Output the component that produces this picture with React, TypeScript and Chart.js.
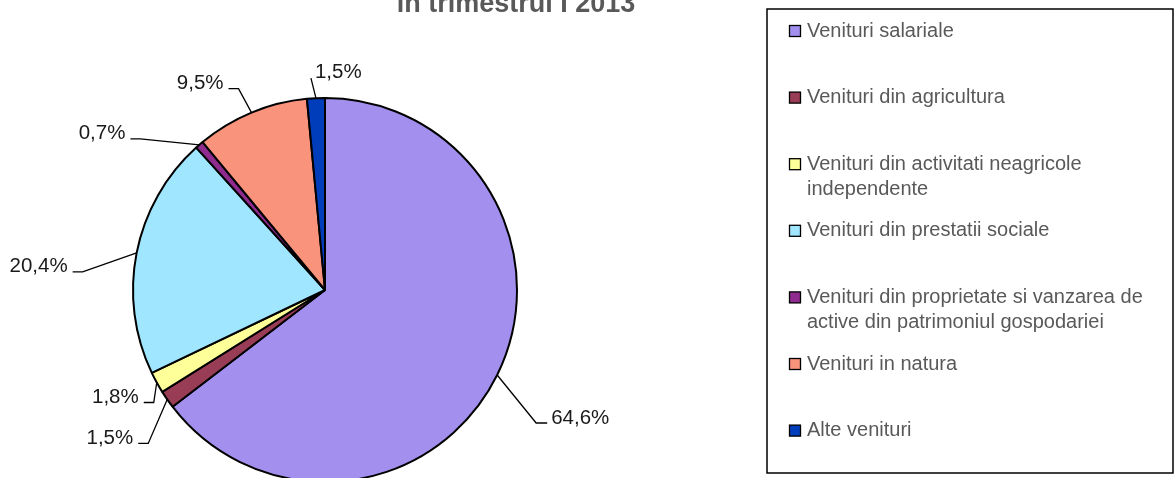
import React, { useEffect, useRef } from 'react';
import { Chart, registerables } from 'chart.js';

Chart.register(...registerables);

const categories = [
  'Venituri salariale',
  'Venituri din agricultura',
  'Venituri din activitati neagricole independente',
  'Venituri din prestatii sociale',
  'Venituri din proprietate si vanzarea de active din patrimoniul gospodariei',
  'Venituri in natura',
  'Alte venituri',
];
const shares = [64.6, 1.5, 1.8, 20.4, 0.7, 9.5, 1.5];
const sliceColors = ['#A390EE', '#993D57', '#FFFF99', '#A0E6FF', '#8F2A8F', '#F9937C', '#003DBA'];
const titleText = 'in trimestrul I 2013';

// label placement: elbow offset from the slice edge and direction of the short tail
const labelLayout = [
  { dx: 39, dy: 48, side: 'right' },
  { dx: -19, dy: 44, side: 'left' },
  { dx: -3, dy: 20, side: 'left' },
  { dx: -54, dy: 19, side: 'left' },
  { dx: -59, dy: -6, side: 'left' },
  { dx: -13, dy: -24, side: 'left' },
  { dx: -5, dy: -20, side: 'up' },
];

const FONT = '"Liberation Sans", Arial, Helvetica, sans-serif';

function wrapText(ctx: CanvasRenderingContext2D, text: string, maxW: number): string[] {
  const words = text.split(' ');
  const lines: string[] = [];
  let cur = '';
  for (const w of words) {
    const t = cur ? cur + ' ' + w : w;
    if (ctx.measureText(t).width > maxW && cur) {
      lines.push(cur);
      cur = w;
    } else {
      cur = t;
    }
  }
  if (cur) lines.push(cur);
  return lines;
}

const labelPlugin = {
  id: 'pieLabels',
  afterDatasetsDraw(chart: any) {
    const ctx: CanvasRenderingContext2D = chart.ctx;
    const meta = chart.getDatasetMeta(0);
    const values = chart.data.datasets[0].data as number[];
    ctx.save();
    ctx.font = `20.5px ${FONT}`;
    ctx.strokeStyle = '#000';
    ctx.fillStyle = '#1a1a1a';
    ctx.lineWidth = 1.3;
    meta.data.forEach((arc: any, i: number) => {
      const { x, y, startAngle, endAngle, outerRadius } = arc.getProps(
        ['x', 'y', 'startAngle', 'endAngle', 'outerRadius'],
        true
      );
      const mid = (startAngle + endAngle) / 2;
      const ex = x + outerRadius * Math.cos(mid);
      const ey = y + outerRadius * Math.sin(mid);
      const L = labelLayout[i];
      const bx = ex + L.dx;
      const by = ey + L.dy;
      ctx.beginPath();
      ctx.moveTo(ex, ey);
      ctx.lineTo(bx, by);
      let tx: number;
      let ty = by - 5;
      if (L.side === 'right') {
        ctx.lineTo(bx + 11, by);
        tx = bx + 15;
        ctx.textAlign = 'left';
      } else if (L.side === 'left') {
        ctx.lineTo(bx - 10, by);
        tx = bx - 15;
        ctx.textAlign = 'right';
      } else {
        tx = bx + 4;
        ty = by - 6;
        ctx.textAlign = 'left';
      }
      ctx.stroke();
      ctx.textBaseline = 'middle';
      const label = values[i].toFixed(1).replace('.', ',') + '%';
      ctx.fillText(label, tx, ty);
    });
    ctx.restore();
  },
};

const framePlugin = {
  id: 'frameAndLegend',
  afterDraw(chart: any) {
    const ctx: CanvasRenderingContext2D = chart.ctx;
    ctx.save();
    // title (only its lower line is visible in the frame)
    ctx.font = `bold 27px ${FONT}`;
    ctx.fillStyle = '#595959';
    ctx.textAlign = 'center';
    ctx.textBaseline = 'alphabetic';
    ctx.fillText(titleText, 516, 12);

    // legend box
    const boxL = 767, boxT = 9, boxR = 1173, boxB = 473;
    ctx.strokeStyle = '#000';
    ctx.lineWidth = 1.5;
    ctx.strokeRect(boxL, boxT, boxR - boxL, boxB - boxT);

    ctx.font = `20px ${FONT}`;
    ctx.textAlign = 'left';
    ctx.textBaseline = 'middle';
    const labels = chart.data.labels as string[];
    const colors = chart.data.datasets[0].backgroundColor as string[];
    const startY = 31;
    const step = 66.6;
    labels.forEach((lab, i) => {
      const cy = startY + i * step;
      ctx.fillStyle = colors[i];
      ctx.fillRect(789.5, cy - 5.5, 11, 11);
      ctx.strokeStyle = '#000';
      ctx.lineWidth = 1.3;
      ctx.strokeRect(789.5, cy - 5.5, 11, 11);
      ctx.fillStyle = '#595959';
      const lines = wrapText(ctx, lab, 360);
      lines.forEach((ln, k) => {
        ctx.fillText(ln, 807, cy + k * 25);
      });
    });
    ctx.restore();
  },
};

export default function App() {
  const ref = useRef<HTMLCanvasElement | null>(null);
  useEffect(() => {
    if (!ref.current) return;
    const chart = new Chart(ref.current, {
      type: 'pie',
      data: {
        labels: categories,
        datasets: [
          {
            data: shares,
            backgroundColor: sliceColors,
            borderColor: '#000',
            borderWidth: 2,
          },
        ],
      },
      options: {
        animation: false,
        responsive: false,
        events: [],
        layout: { padding: { left: 132, top: 97, right: 658, bottom: 17 } },
        plugins: {
          legend: { display: false },
          tooltip: { enabled: false },
          title: { display: false },
        },
      },
      plugins: [labelPlugin, framePlugin],
    });
    return () => chart.destroy();
  }, []);
  return (
    <div
      style={{
        position: 'fixed',
        left: 0,
        top: 0,
        width: 1176,
        height: 478,
        overflow: 'hidden',
        background: '#fff',
      }}
    >
      <canvas ref={ref} width={1176} height={500} style={{ display: 'block' }} />
    </div>
  );
}
